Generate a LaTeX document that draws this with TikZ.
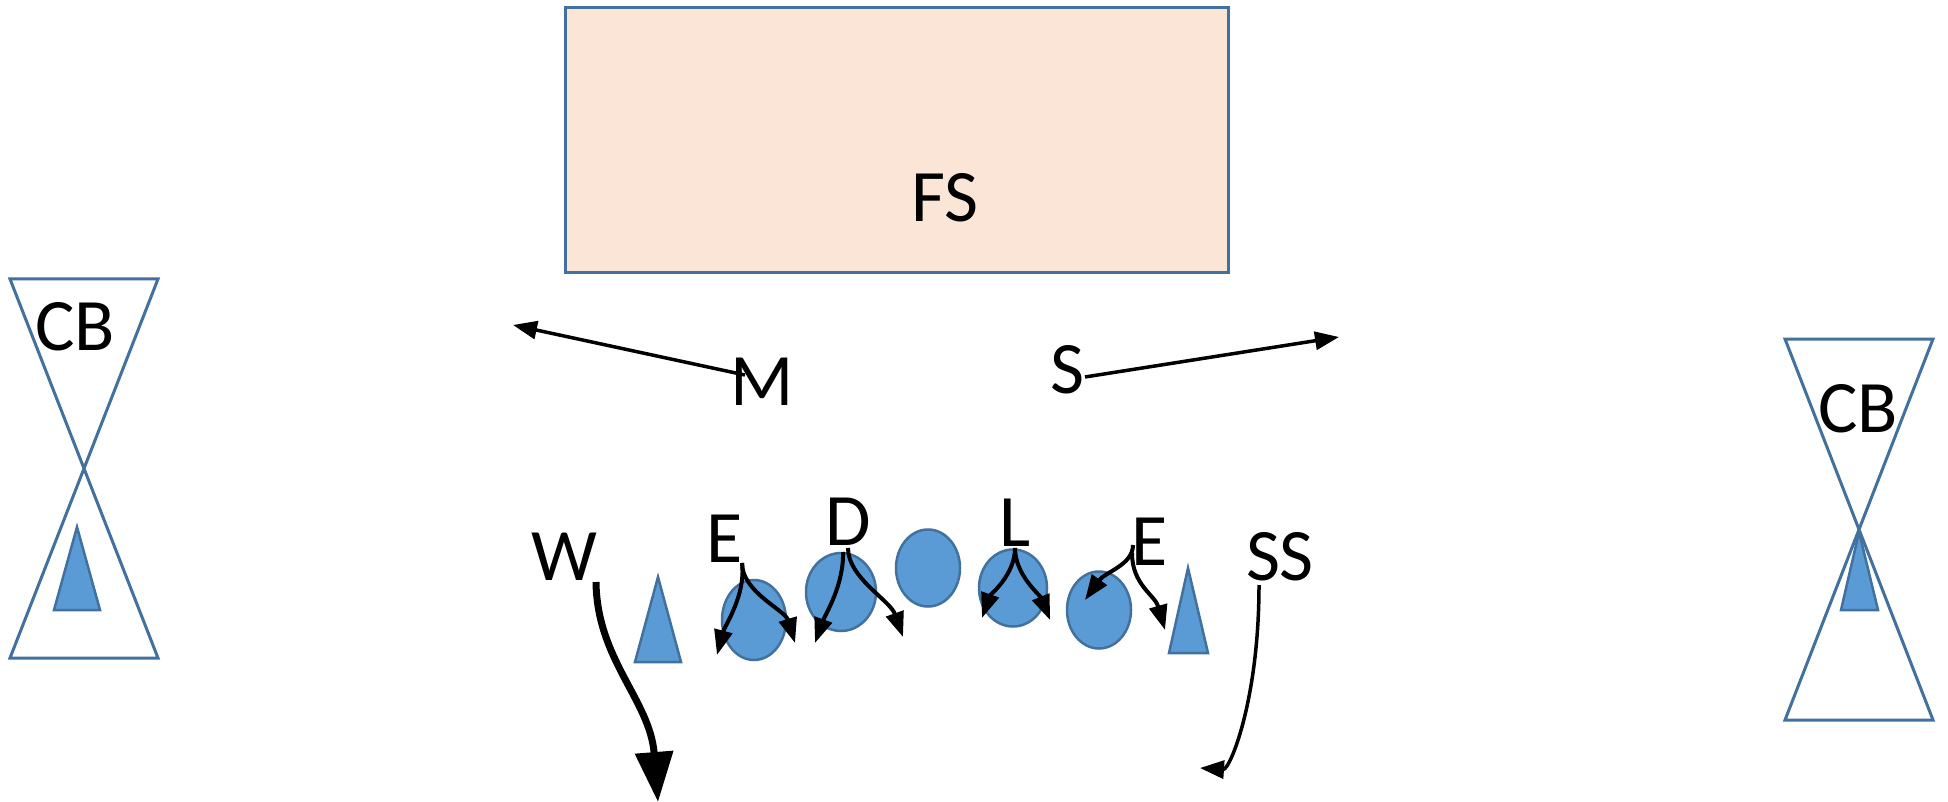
\documentclass[tikz,border=0pt]{standalone}
\usepackage{fontspec}
\setmainfont{Carlito}
\usetikzlibrary{arrows.meta,shapes.geometric}
\definecolor{pblue}{HTML}{5B9BD5}
\definecolor{pedge}{HTML}{41719C}
\definecolor{ppeach}{HTML}{FBE5D6}
\begin{document}
\begin{tikzpicture}[x=1pt,y=-1pt,
  lbl/.style={inner sep=0pt, anchor=base, font=\fontsize{74}{80}\selectfont},
  player/.style={ellipse, fill=pblue, draw=pedge, line width=2.5pt, inner sep=0pt},
  tri/.style={fill=pblue, draw=pedge, line width=2.5pt, line join=miter},
  zone/.style={draw=pedge, line width=3pt, line join=miter},
  thinarrow/.style={line width=3.5pt, -{Triangle[length=24pt,width=18pt]}},
  smallarrow/.style={line width=4pt, -{Triangle[length=25pt,width=18pt]}},
  bigarrow/.style={line width=7pt, -{Triangle[length=50pt,width=37pt]}}
]
\useasboundingbox (0,0) rectangle (1948,802);
\fill[white] (0,0) rectangle (1948,802);

% FS zone
\node[rectangle, fill=ppeach, draw=pedge, line width=3pt, minimum width=663pt, minimum height=265pt, inner sep=0pt] (fsbox) at (896.5,140.5) {};
\node[lbl] (fs) at (945,222) {FS};

% left CB zone
\draw[zone] (10,279) -- (158,279) -- (10,658) -- (158,658) -- cycle;
\draw[tri] (77,527) -- (100,610) -- (54,610) -- cycle;
\node[lbl] (cbl) at (75,350) {CB};

% right CB zone
\draw[zone] (1785,339) -- (1933,339) -- (1785,720) -- (1933,720) -- cycle;
\draw[tri] (1859,532) -- (1878,610) -- (1841,610) -- cycle;
\node[lbl] (cbr) at (1858,432) {CB};

% triangles near the line
\draw[tri] (658,577) -- (681,662) -- (635,662) -- cycle;
\draw[tri] (1188,568) -- (1208,653) -- (1169,653) -- cycle;

% linemen
\node[player, minimum width=64pt, minimum height=80pt] (c1) at (754,620) {};
\node[player, minimum width=70pt, minimum height=78pt] (c2) at (841,592) {};
\node[player, minimum width=64pt, minimum height=77pt] (c3) at (928,568) {};
\node[player, minimum width=68pt, minimum height=77pt] (c4) at (1013,588) {};
\node[player, minimum width=64pt, minimum height=77pt] (c5) at (1099,610) {};

% labels
\node[lbl] (m) at (762,405) {M};
\node[lbl] (s) at (1067,393) {S};
\node[lbl] (w) at (564,580) {W};
\node[lbl] (el) at (725,562) {E};
\node[lbl] (d) at (848,545) {D};
\node[lbl] (l) at (1015,546) {L};
\node[lbl] (er) at (1150,565) {E};
\node[lbl] (ss) at (1280,580) {SS};

% connector end points
\coordinate (mstart) at (745,375);
\coordinate (mtip) at (513,325);
\coordinate (sstart) at (1085,377);
\coordinate (stip) at (1339,337);
\coordinate (wstart) at (596,582);
\coordinate (wtip) at (658,802);
\coordinate (ssstart) at (1259,585);
\coordinate (sstip) at (1200,768);
\coordinate (elstart) at (742,563);
\coordinate (eltipa) at (717,655);
\coordinate (eltipb) at (795,643);
\coordinate (dstarta) at (843,552);
\coordinate (dstartb) at (848,548);
\coordinate (dtipa) at (815,643);
\coordinate (dtipb) at (903,637);
\coordinate (lstart) at (1015,548);
\coordinate (ltipa) at (982,618);
\coordinate (ltipb) at (1050,620);
\coordinate (erstarta) at (1133,545);
\coordinate (erstartb) at (1132,553);
\coordinate (ertipa) at (1085,600);
\coordinate (ertipb) at (1165,630);

% routes
\draw[thinarrow] (mstart) -- (mtip);
\draw[thinarrow] (sstart) -- (stip);
\draw[bigarrow] (wstart) .. controls (597,660) and (650,700) .. (wtip);
\draw[thinarrow] (ssstart) .. controls (1259,700) and (1230,770) .. (sstip);

\draw[smallarrow] (elstart) .. controls (746,595) and (725,625) .. (eltipa);
\draw[smallarrow] (elstart) .. controls (742,592) and (785,610) .. (eltipb);
\draw[smallarrow] (dstarta) .. controls (844,585) and (825,615) .. (dtipa);
\draw[smallarrow] (dstartb) .. controls (848,578) and (890,600) .. (dtipb);
\draw[smallarrow] (lstart) .. controls (1015,575) and (990,595) .. (ltipa);
\draw[smallarrow] (lstart) .. controls (1015,575) and (1040,595) .. (ltipb);
\draw[smallarrow] (erstarta) .. controls (1133,565) and (1105,572) .. (ertipa);
\draw[smallarrow] (erstartb) .. controls (1132,585) and (1155,595) .. (ertipb);
\end{tikzpicture}
\end{document}
